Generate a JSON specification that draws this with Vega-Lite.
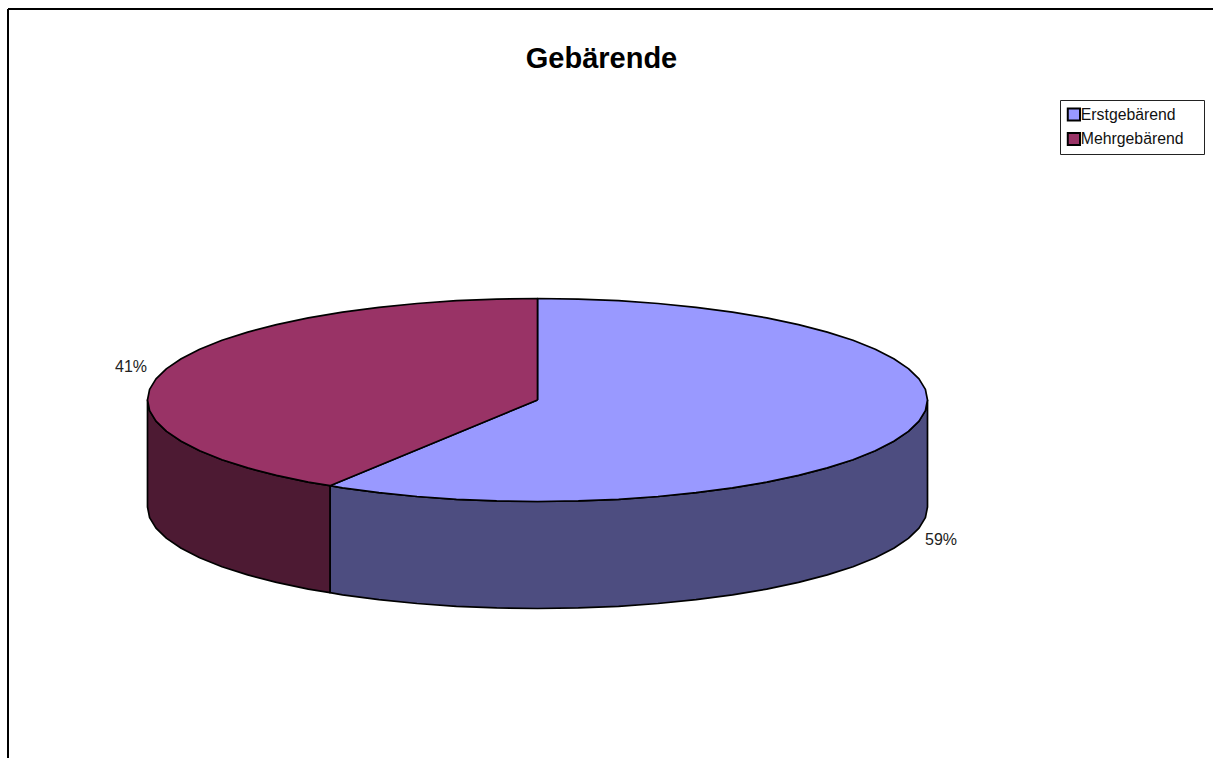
{
"$schema":"https://vega.github.io/schema/vega-lite/v6.json",
"width":1213,"height":758,"padding":0,"autosize":"none","background":"white",
"title":{"text":"Gebärende","font":"Liberation Sans","fontSize":29,"fontWeight":"bold","color":"black","anchor":"middle","dx":-5,"dy":97,"offset":0,"baseline":"alphabetic"},
"view":{"stroke":null},
"config":{"view":{"stroke":null}},
"datasets":{
"tops":[
{"slice":"Erstgebärend","i":0,"x":537.5,"y":400},{"slice":"Erstgebärend","i":1,"x":537.5,"y":298.5},{"slice":"Erstgebärend","i":2,"x":578.3,"y":299.1},{"slice":"Erstgebärend","i":3,"x":618.6,"y":300.7},{"slice":"Erstgebärend","i":4,"x":658,"y":303.5},{"slice":"Erstgebärend","i":5,"x":696.1,"y":307.3},{"slice":"Erstgebärend","i":6,"x":732.5,"y":312.1},{"slice":"Erstgebärend","i":7,"x":766.7,"y":317.9},{"slice":"Erstgebärend","i":8,"x":798.5,"y":324.6},{"slice":"Erstgebärend","i":9,"x":827.3,"y":332.1},{"slice":"Erstgebärend","i":10,"x":853,"y":340.3},{"slice":"Erstgebärend","i":11,"x":875.3,"y":349.3},{"slice":"Erstgebärend","i":12,"x":893.8,"y":358.7},{"slice":"Erstgebärend","i":13,"x":908.4,"y":368.6},{"slice":"Erstgebärend","i":14,"x":919,"y":378.9},{"slice":"Erstgebärend","i":15,"x":925.4,"y":389.4},{"slice":"Erstgebärend","i":16,"x":927.5,"y":400},{"slice":"Erstgebärend","i":17,"x":925.4,"y":410.6},{"slice":"Erstgebärend","i":18,"x":919,"y":421.1},{"slice":"Erstgebärend","i":19,"x":908.4,"y":431.4},{"slice":"Erstgebärend","i":20,"x":893.8,"y":441.3},{"slice":"Erstgebärend","i":21,"x":875.3,"y":450.8},{"slice":"Erstgebärend","i":22,"x":853,"y":459.7},{"slice":"Erstgebärend","i":23,"x":827.3,"y":467.9},{"slice":"Erstgebärend","i":24,"x":798.5,"y":475.4},{"slice":"Erstgebärend","i":25,"x":766.7,"y":482.1},{"slice":"Erstgebärend","i":26,"x":732.5,"y":487.9},{"slice":"Erstgebärend","i":27,"x":696.1,"y":492.7},{"slice":"Erstgebärend","i":28,"x":658,"y":496.5},{"slice":"Erstgebärend","i":29,"x":618.6,"y":499.3},{"slice":"Erstgebärend","i":30,"x":578.3,"y":500.9},{"slice":"Erstgebärend","i":31,"x":537.5,"y":501.5},{"slice":"Erstgebärend","i":32,"x":496.7,"y":500.9},{"slice":"Erstgebärend","i":33,"x":456.4,"y":499.3},{"slice":"Erstgebärend","i":34,"x":417,"y":496.5},{"slice":"Erstgebärend","i":35,"x":378.9,"y":492.7},{"slice":"Erstgebärend","i":36,"x":342.5,"y":487.9},{"slice":"Erstgebärend","i":37,"x":330,"y":485.7},{"slice":"Erstgebärend","i":38,"x":537.5,"y":400},
{"slice":"Mehrgebärend","i":0,"x":537.5,"y":400},{"slice":"Mehrgebärend","i":1,"x":330,"y":485.7},{"slice":"Mehrgebärend","i":2,"x":308.3,"y":482.1},{"slice":"Mehrgebärend","i":3,"x":276.5,"y":475.4},{"slice":"Mehrgebärend","i":4,"x":247.7,"y":467.9},{"slice":"Mehrgebärend","i":5,"x":222,"y":459.7},{"slice":"Mehrgebärend","i":6,"x":199.7,"y":450.8},{"slice":"Mehrgebärend","i":7,"x":181.2,"y":441.3},{"slice":"Mehrgebärend","i":8,"x":166.6,"y":431.4},{"slice":"Mehrgebärend","i":9,"x":156,"y":421.1},{"slice":"Mehrgebärend","i":10,"x":149.6,"y":410.6},{"slice":"Mehrgebärend","i":11,"x":147.5,"y":400},{"slice":"Mehrgebärend","i":12,"x":149.6,"y":389.4},{"slice":"Mehrgebärend","i":13,"x":156,"y":378.9},{"slice":"Mehrgebärend","i":14,"x":166.6,"y":368.6},{"slice":"Mehrgebärend","i":15,"x":181.2,"y":358.7},{"slice":"Mehrgebärend","i":16,"x":199.7,"y":349.3},{"slice":"Mehrgebärend","i":17,"x":222,"y":340.3},{"slice":"Mehrgebärend","i":18,"x":247.7,"y":332.1},{"slice":"Mehrgebärend","i":19,"x":276.5,"y":324.6},{"slice":"Mehrgebärend","i":20,"x":308.3,"y":317.9},{"slice":"Mehrgebärend","i":21,"x":342.5,"y":312.1},{"slice":"Mehrgebärend","i":22,"x":378.9,"y":307.3},{"slice":"Mehrgebärend","i":23,"x":417,"y":303.5},{"slice":"Mehrgebärend","i":24,"x":456.4,"y":300.7},{"slice":"Mehrgebärend","i":25,"x":496.7,"y":299.1},{"slice":"Mehrgebärend","i":26,"x":537.5,"y":298.5},{"slice":"Mehrgebärend","i":27,"x":537.5,"y":400}
],
"sides":[
{"slice":"Erstgebärend","i":0,"x":927.5,"y":400},{"slice":"Erstgebärend","i":1,"x":925.4,"y":410.6},{"slice":"Erstgebärend","i":2,"x":919,"y":421.1},{"slice":"Erstgebärend","i":3,"x":908.4,"y":431.4},{"slice":"Erstgebärend","i":4,"x":893.8,"y":441.3},{"slice":"Erstgebärend","i":5,"x":875.3,"y":450.8},{"slice":"Erstgebärend","i":6,"x":853,"y":459.7},{"slice":"Erstgebärend","i":7,"x":827.3,"y":467.9},{"slice":"Erstgebärend","i":8,"x":798.5,"y":475.4},{"slice":"Erstgebärend","i":9,"x":766.7,"y":482.1},{"slice":"Erstgebärend","i":10,"x":732.5,"y":487.9},{"slice":"Erstgebärend","i":11,"x":696.1,"y":492.7},{"slice":"Erstgebärend","i":12,"x":658,"y":496.5},{"slice":"Erstgebärend","i":13,"x":618.6,"y":499.3},{"slice":"Erstgebärend","i":14,"x":578.3,"y":500.9},{"slice":"Erstgebärend","i":15,"x":537.5,"y":501.5},{"slice":"Erstgebärend","i":16,"x":496.7,"y":500.9},{"slice":"Erstgebärend","i":17,"x":456.4,"y":499.3},{"slice":"Erstgebärend","i":18,"x":417,"y":496.5},{"slice":"Erstgebärend","i":19,"x":378.9,"y":492.7},{"slice":"Erstgebärend","i":20,"x":342.5,"y":487.9},{"slice":"Erstgebärend","i":21,"x":330,"y":485.7},{"slice":"Erstgebärend","i":22,"x":330,"y":592.7},{"slice":"Erstgebärend","i":23,"x":342.5,"y":594.9},{"slice":"Erstgebärend","i":24,"x":378.9,"y":599.7},{"slice":"Erstgebärend","i":25,"x":417,"y":603.5},{"slice":"Erstgebärend","i":26,"x":456.4,"y":606.3},{"slice":"Erstgebärend","i":27,"x":496.7,"y":607.9},{"slice":"Erstgebärend","i":28,"x":537.5,"y":608.5},{"slice":"Erstgebärend","i":29,"x":578.3,"y":607.9},{"slice":"Erstgebärend","i":30,"x":618.6,"y":606.3},{"slice":"Erstgebärend","i":31,"x":658,"y":603.5},{"slice":"Erstgebärend","i":32,"x":696.1,"y":599.7},{"slice":"Erstgebärend","i":33,"x":732.5,"y":594.9},{"slice":"Erstgebärend","i":34,"x":766.7,"y":589.1},{"slice":"Erstgebärend","i":35,"x":798.5,"y":582.4},{"slice":"Erstgebärend","i":36,"x":827.3,"y":574.9},{"slice":"Erstgebärend","i":37,"x":853,"y":566.7},{"slice":"Erstgebärend","i":38,"x":875.3,"y":557.8},{"slice":"Erstgebärend","i":39,"x":893.8,"y":548.3},{"slice":"Erstgebärend","i":40,"x":908.4,"y":538.4},{"slice":"Erstgebärend","i":41,"x":919,"y":528.1},{"slice":"Erstgebärend","i":42,"x":925.4,"y":517.6},{"slice":"Erstgebärend","i":43,"x":927.5,"y":507},{"slice":"Erstgebärend","i":44,"x":927.5,"y":400},
{"slice":"Mehrgebärend","i":0,"x":330,"y":485.7},{"slice":"Mehrgebärend","i":1,"x":308.3,"y":482.1},{"slice":"Mehrgebärend","i":2,"x":276.5,"y":475.4},{"slice":"Mehrgebärend","i":3,"x":247.7,"y":467.9},{"slice":"Mehrgebärend","i":4,"x":222,"y":459.7},{"slice":"Mehrgebärend","i":5,"x":199.7,"y":450.8},{"slice":"Mehrgebärend","i":6,"x":181.2,"y":441.3},{"slice":"Mehrgebärend","i":7,"x":166.6,"y":431.4},{"slice":"Mehrgebärend","i":8,"x":156,"y":421.1},{"slice":"Mehrgebärend","i":9,"x":149.6,"y":410.6},{"slice":"Mehrgebärend","i":10,"x":147.5,"y":400},{"slice":"Mehrgebärend","i":11,"x":147.5,"y":507},{"slice":"Mehrgebärend","i":12,"x":149.6,"y":517.6},{"slice":"Mehrgebärend","i":13,"x":156,"y":528.1},{"slice":"Mehrgebärend","i":14,"x":166.6,"y":538.4},{"slice":"Mehrgebärend","i":15,"x":181.2,"y":548.3},{"slice":"Mehrgebärend","i":16,"x":199.7,"y":557.8},{"slice":"Mehrgebärend","i":17,"x":222,"y":566.7},{"slice":"Mehrgebärend","i":18,"x":247.7,"y":574.9},{"slice":"Mehrgebärend","i":19,"x":276.5,"y":582.4},{"slice":"Mehrgebärend","i":20,"x":308.3,"y":589.1},{"slice":"Mehrgebärend","i":21,"x":330,"y":592.7},{"slice":"Mehrgebärend","i":22,"x":330,"y":485.7}
],
"labels":[{"slice":"Erstgebärend","share":"59%","x":941,"y":540},{"slice":"Mehrgebärend","share":"41%","x":131,"y":367}],
"frame":[{"x":8,"y":9,"x2":8,"y2":758},{"x":8,"y":9,"x2":1213,"y2":9}]
},
"layer":[
{"data":{"name":"frame"},"mark":{"type":"rule","stroke":"black","strokeWidth":2},
 "encoding":{"x":{"field":"x","type":"quantitative","scale":{"domain":[0,1213],"nice":false,"zero":false},"axis":null},"y":{"field":"y","type":"quantitative","scale":{"domain":[758,0],"nice":false,"zero":false},"axis":null},"x2":{"field":"x2"},"y2":{"field":"y2"}}},
{"data":{"name":"sides"},"mark":{"type":"line","stroke":"black","strokeWidth":1.7,"strokeJoin":"round","interpolate":"linear"},
 "encoding":{"x":{"field":"x","type":"quantitative","scale":{"domain":[0,1213],"nice":false,"zero":false},"axis":null},"y":{"field":"y","type":"quantitative","scale":{"domain":[758,0],"nice":false,"zero":false},"axis":null},"order":{"field":"i","type":"quantitative"},
 "fill":{"field":"slice","type":"nominal","scale":{"domain":["Erstgebärend","Mehrgebärend"],"range":["#4D4D80","#4D1A33"]},"legend":null}}},
{"data":{"name":"tops"},"mark":{"type":"line","stroke":"black","strokeWidth":1.7,"strokeJoin":"round","interpolate":"linear"},
 "encoding":{"x":{"field":"x","type":"quantitative","scale":{"domain":[0,1213],"nice":false,"zero":false},"axis":null},"y":{"field":"y","type":"quantitative","scale":{"domain":[758,0],"nice":false,"zero":false},"axis":null},"order":{"field":"i","type":"quantitative"},
 "fill":{"field":"slice","type":"nominal","scale":{"domain":["Erstgebärend","Mehrgebärend"],"range":["#9999FF","#993366"]},
  "legend":{"title":"\u00a0","titleOrient":"right","titlePadding":15,"titleFontSize":1,"orient":"none","legendX":1060,"legendY":100,"strokeColor":"#222222","fillColor":"white","padding":5,"symbolOffset":1,"symbolType":"square","symbolSize":150,"symbolStrokeColor":"black","symbolStrokeWidth":2,"labelFont":"Liberation Sans","labelFontSize":15.8,"labelColor":"#111111","labelOffset":-1,"rowPadding":5.5,"labelLimit":200,"clipHeight":19}}}},
{"data":{"name":"labels"},"mark":{"type":"text","font":"Liberation Sans","fontSize":16,"color":"#222222","align":"center","baseline":"middle"},
 "encoding":{"x":{"field":"x","type":"quantitative","scale":{"domain":[0,1213],"nice":false,"zero":false},"axis":null},"y":{"field":"y","type":"quantitative","scale":{"domain":[758,0],"nice":false,"zero":false},"axis":null},"text":{"field":"share","type":"nominal"}}}
],
"resolve":{"scale":{"fill":"independent"},"legend":{"fill":"independent"}}
}
